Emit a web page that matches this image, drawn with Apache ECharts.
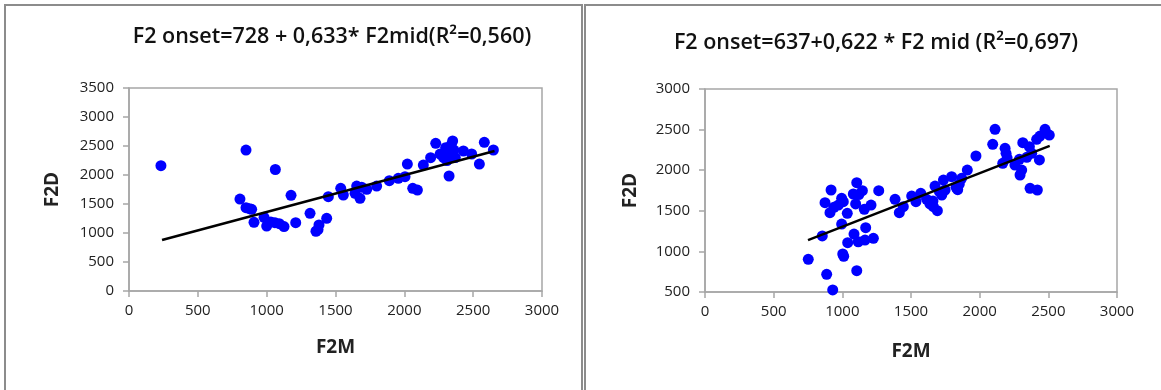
<!DOCTYPE html>
<html>
<head>
<meta charset="utf-8">
<script src="https://cdn.jsdelivr.net/npm/echarts@6/dist/echarts.min.js"></script>
<style>
html,body{margin:0;padding:0;background:#fff;}
#chart{width:1161px;height:390px;}
</style>
</head>
<body>
<div id="chart"></div>
<script>
// ---- data ----
const leftTitle = "F2 onset=728 + 0,633* F2mid(R²=0,560)";
const rightTitle = "F2 onset=637+0,622 * F2 mid (R²=0,697)";
const xName = "F2M";
const yName = "F2D";

const leftPoints = [
  [232,2160],[850,2430],[1063,2095],[806,1585],[850,1436],[875,1420],[891,1408],[908,1185],
  [981,1270],[1000,1120],[1030,1190],[1060,1178],[1092,1160],[1126,1110],[1177,1650],[1211,1178],
  [1315,1339],[1358,1030],[1373,1060],[1380,1140],[1436,1253],[1448,1626],[1538,1770],[1557,1655],
  [1654,1810],[1642,1684],[1678,1598],[1690,1790],[1727,1753],[1799,1810],[1891,1902],[1956,1943],
  [2005,1971],[2022,2189],[2061,1770],[2095,1741],[2138,2172],[2191,2298],[2228,2546],[2260,2360],
  [2285,2300],[2300,2470],[2310,2250],[2325,1983],[2330,2400],[2340,2520],[2351,2586],[2360,2430],
  [2370,2300],[2429,2414],[2489,2362],[2545,2189],[2581,2563],[2647,2431]
];
const leftTrend = [[240,880],[2655,2415]];

const rightPoints = [
  [752,903],[886,718],[930,525],[854,1190],[918,1756],[874,1600],[910,1477],[939,1543],
  [995,1654],[1007,1612],[971,1571],[1036,1469],[995,1337],[1003,968],[1010,940],[1105,1846],
  [1080,1707],[1146,1748],[1097,1584],[1160,1519],[1209,1571],[1265,1748],[1170,1292],[1085,1214],
  [1116,1119],[1165,1140],[1226,1161],[1039,1107],[1105,762],[1120,1700],[1384,1642],[1415,1477],
  [1444,1551],[1505,1682],[1536,1612],[1571,1715],[1614,1642],[1638,1584],[1663,1551],[1692,1501],
  [1675,1805],[1707,1735],[1736,1879],[1724,1694],[1748,1756],[1660,1620],[1796,1920],[1828,1789],
  [1840,1760],[1852,1830],[1869,1900],[1910,2002],[1973,2175],[2095,2319],[2112,2504],[2185,2270],
  [2192,2208],[2168,2085],[2200,2150],[2257,2064],[2289,2134],[2306,2002],[2294,1941],[2314,2339],
  [2343,2159],[2362,2289],[2379,2208],[2367,1777],[2420,1756],[2435,2126],[2415,2380],[2439,2421],
  [2476,2504],[2507,2433]
];
const rightTrend = [[750,1138],[2510,2300]];

const leftX = {min:0, max:3000, interval:500};
const leftY = {min:0, max:3500, interval:500};
const rightX = {min:0, max:3000, interval:500};
const rightY = {min:500, max:3000, interval:500};

// ---- chart ----
const FONT = "'Open Sans', 'Noto Sans', sans-serif";
const axisGray = '#a6a6a6';
const plain = v => String(v);
function xAxis(idx, r, gap){
  return {
    type:'value', gridIndex:idx, min:r.min, max:r.max, interval:r.interval,
    name:xName, nameLocation:'middle', nameGap:gap,
    nameTextStyle:{fontFamily:FONT, fontWeight:'bold', fontSize:19, color:'#222'},
    axisLine:{show:true, lineStyle:{color:axisGray, width:1.5}},
    axisTick:{show:true, length:6, lineStyle:{color:axisGray, width:1.5}},
    axisLabel:{fontFamily:FONT, fontSize:15, color:'#222', margin:12, formatter:plain},
    splitLine:{show:false}
  };
}
function yAxis(idx, r, gap){
  return {
    type:'value', gridIndex:idx, min:r.min, max:r.max, interval:r.interval,
    name:yName, nameLocation:'middle', nameGap:gap, nameRotate:90,
    nameTextStyle:{fontFamily:FONT, fontWeight:'bold', fontSize:19, color:'#222'},
    axisLine:{show:true, lineStyle:{color:axisGray, width:1.5}},
    axisTick:{show:true, length:6, lineStyle:{color:axisGray, width:1.5}},
    axisLabel:{fontFamily:FONT, fontSize:15, color:'#222', margin:15, formatter:plain},
    splitLine:{show:false}
  };
}
const chart = echarts.init(document.getElementById('chart'), null, {renderer:'canvas'});
chart.setOption({
  animation:false,
  backgroundColor:'#fff',
  title:[
    {text:leftTitle, left:332, top:26, textAlign:'center', padding:0,
     textStyle:{fontFamily:FONT, fontWeight:600, fontSize:21.5, color:'#111'}},
    {text:rightTitle, left:876, top:32, textAlign:'center', padding:0,
     textStyle:{fontFamily:FONT, fontWeight:600, fontSize:21.5, color:'#111'}}
  ],
  graphic:[
    {type:'polyline', shape:{points:[[5,400],[5,5],[582,5],[582,400]]},
     style:{stroke:'#8c8c8c', lineWidth:2, fill:null}, silent:true},
    {type:'polyline', shape:{points:[[585,400],[585,5],[1165,5]]},
     style:{stroke:'#8c8c8c', lineWidth:2, fill:null}, silent:true}
  ],
  grid:[
    {left:129, top:88, width:413, height:203, show:true, borderColor:axisGray, borderWidth:1.5, backgroundColor:'#fff'},
    {left:705, top:89, width:412, height:203, show:true, borderColor:axisGray, borderWidth:1.5, backgroundColor:'#fff'}
  ],
  xAxis:[xAxis(0,leftX,47), xAxis(1,rightX,50)],
  yAxis:[yAxis(0,leftY,67), yAxis(1,rightY,65)],
  series:[
    {type:'scatter', xAxisIndex:0, yAxisIndex:0, data:leftPoints, symbol:'circle', symbolSize:11,
     itemStyle:{color:'#0000ff', opacity:1}},
    {type:'line', xAxisIndex:0, yAxisIndex:0, data:leftTrend, symbol:'none',
     lineStyle:{color:'#000', width:2.5}},
    {type:'scatter', xAxisIndex:1, yAxisIndex:1, data:rightPoints, symbol:'circle', symbolSize:11,
     itemStyle:{color:'#0000ff', opacity:1}},
    {type:'line', xAxisIndex:1, yAxisIndex:1, data:rightTrend, symbol:'none',
     lineStyle:{color:'#000', width:2.5}}
  ]
});
</script>
</body>
</html>
